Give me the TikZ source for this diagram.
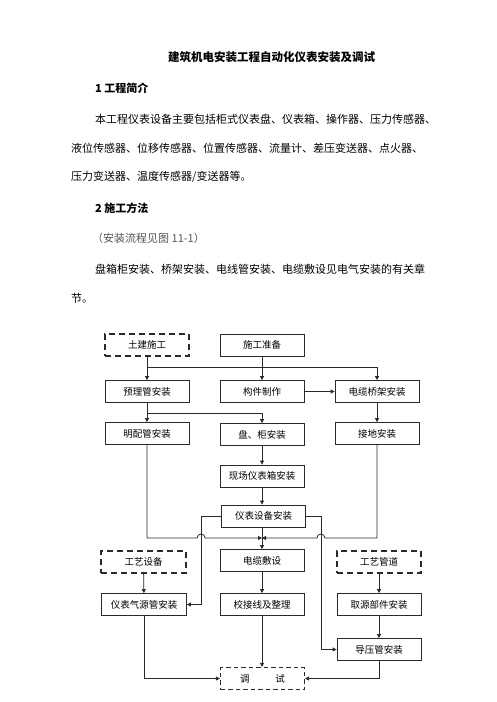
\documentclass[tikz,border=0pt]{standalone}
\usepackage{fontspec}
\newfontfamily\cjk{Noto Sans CJK SC}
\usetikzlibrary{arrows.meta, positioning, calc}
\definecolor{lineGray}{HTML}{2A2A2A}
\definecolor{noteGray}{HTML}{555555}

\begin{document}
\begin{tikzpicture}[x=1pt, y=-1pt,
    body/.style={anchor=west, inner sep=0pt, font=\cjk\fontsize{11}{13}\selectfont},
    head/.style={anchor=west, inner sep=0pt, font=\cjk\bfseries\fontsize{11}{13}\selectfont},
    box/.style={rectangle, draw=lineGray, line width=0.8pt, minimum width=84pt, minimum height=22pt,
                inner sep=0pt, align=center, font=\cjk\fontsize{9.5}{11}\selectfont},
    outer/.style={box, line width=1.5pt, dash pattern=on 6pt off 4pt},
    test/.style={box, line width=1.1pt, dash pattern=on 4.5pt off 3pt},
    arrow/.style={-{Triangle[length=4pt, width=4pt]}, line width=0.8pt, color=lineGray},
    link/.style={line width=0.8pt, color=lineGray},
]
\useasboundingbox (0,0) rectangle (496,702);

% Text above the chart
\node[font=\cjk\bfseries\fontsize{11.5}{13}\selectfont] (title) at (271.5,57) {建筑机电安装工程自动化仪表安装及调试};
\node[head] (sec1) at (95,88) {1 工程简介};
\node[body] (par1a) at (95,119) {本工程仪表设备主要包括柜式仪表盘、仪表箱、操作器、压力传感器、};
\node[body] (par1b) at (71,148) {液位传感器、位移传感器、位置传感器、流量计、差压变送器、点火器、};
\node[body] (par1c) at (71,177) {压力变送器、温度传感器/变送器等。};
\node[head] (sec2) at (95,208) {2 施工方法};
\node[body, text=noteGray] (note) at (92,238) {（安装流程见图 11-1）};
\node[body] (par2a) at (95,269) {盘箱柜安装、桥架安装、电线管安装、电缆敷设见电气安装的有关章};
\node[body] (par2b) at (71,298) {节。};

% Upper rows
\node[outer] (tujian) at (147,345) {土建施工};
\node[box] (zhunbei) at (262,345) {施工准备};
\node[box] (yumai) at (147,391.5) {预理管安装};
\node[box] (goujian) at (262,391.5) {构件制作};
\node[box] (qiaojia) at (377,391.5) {电缆桥架安装};
\node[box] (mingpei) at (147,433.5) {明配管安装};
\node[box] (pangui) at (262,434.5) {盘、柜安装};
\node[box] (jiedi) at (377,433.5) {接地安装};
\node[box] (xiangbox) at (262,476) {现场仪表箱安装};
\node[box] (shebei) at (263.5,516) {仪表设备安装};

% Lower rows
\node[outer, minimum width=85pt] (gongyi) at (143.5,562) {工艺设备};
\node[box] (dianlan) at (262,560.5) {电缆敷设};
\node[outer] (guandao) at (379,562) {工艺管道};
\node[box, minimum width=85pt] (qiyuan) at (144,604.5) {仪表气源管安装};
\node[box] (jiaojie) at (262,604.5) {校接线及整理};
\node[box] (quyuan) at (379,604.5) {取源部件安装};
\node[box] (daoya) at (379,649.5) {导压管安装};
\node[test] (tiaoshi) at (262.5,678.5) {调\hspace{2.7em}试};

% Branch points
\coordinate (splitA) at (147,367);
\coordinate (splitB) at (147,413);
\coordinate (joinL) at (147,538);
\coordinate (joinR) at (377,538);
\coordinate (joinM) at (262,538);

% Upper connectors
\draw[arrow] (tujian) -- (yumai);
\draw[arrow] (splitA) -| (qiaojia.north);
\draw[arrow] (zhunbei) -- (goujian);
\draw[arrow] (goujian) -- (qiaojia);
\draw[arrow] (yumai) -- (mingpei);
\draw[arrow] (splitB) -| (pangui.north);
\draw[arrow] (qiaojia) -- (jiedi);
\draw[arrow] (pangui) -- (xiangbox);
\draw[arrow] (xiangbox) -- (shebei.north -| xiangbox);
\draw[arrow] (shebei.south -| dianlan) -- (dianlan);

% Side lines with hops
\draw[link] (shebei.west) -- ++(-20,0) coordinate (bendL);
\draw[arrow] (bendL) |- (qiyuan.east);
\draw[link] (shebei.east) -- ++(15,0) coordinate (bendR);
\draw[arrow] (bendR) |- (daoya.west);
\draw[arrow] (mingpei.south) -- (joinL) -- ($(joinL -| bendL)+(-4,0)$)
    arc[start angle=180, end angle=0, radius=4pt] -- (joinM);
\draw[arrow] (jiedi.south) -- (joinR) -- ($(joinR -| bendR)+(4,0)$)
    arc[start angle=0, end angle=180, radius=4pt] -- (joinM);

% Lower connectors
\draw[arrow] (gongyi) -- (qiyuan);
\draw[arrow] (dianlan) -- (jiaojie);
\draw[arrow] (guandao) -- (quyuan);
\draw[arrow] (quyuan) -- (daoya);
\draw[arrow] (qiyuan.south) |- (tiaoshi.west);
\draw[arrow] (jiaojie) -- (tiaoshi.north -| jiaojie);
\draw[arrow] (daoya.south) |- (tiaoshi.east);
\end{tikzpicture}
\end{document}
